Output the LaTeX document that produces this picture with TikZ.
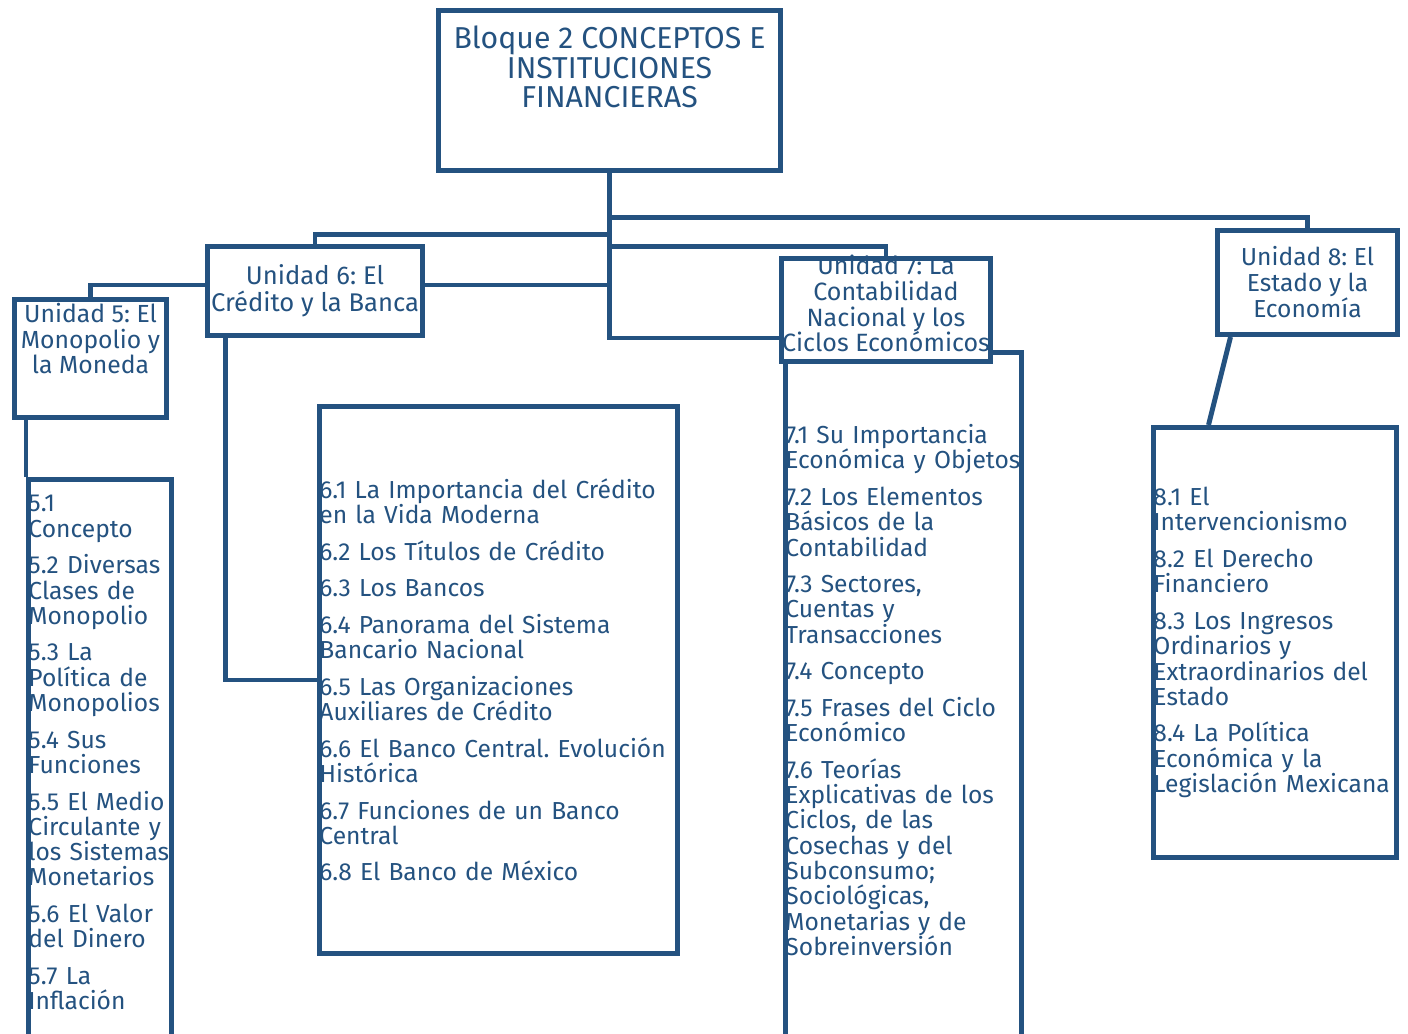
\documentclass[tikz,border=0pt]{standalone}
\usepackage{fontspec}
\setmainfont{Fira Sans}
\frenchspacing
\definecolor{azul}{RGB}{36,82,128}
\newcommand{\salto}{\\[8pt]}
\tikzset{
	link/.style={draw=azul, line width=3.5pt},
	unitbox/.style={draw=azul, fill=white, line width=3.5pt, inner sep=0pt, align=center, text=azul},
	listbox/.style={draw=azul, fill=white, line width=3.5pt, inner xsep=0pt, inner ysep=0pt, align=left, text=azul, font=\fontsize{17.5}{18}\selectfont},
	listtext/.style={inner sep=0pt, align=left, text=azul, font=\fontsize{17.5}{18}\selectfont},
	boxtext/.style={inner sep=0pt, align=center, text=azul},
}

\begin{document}
\begin{tikzpicture}[x=0.025cm, y=-0.025cm]
	\useasboundingbox (0,0) rectangle (1408,1033);
	\clip (0,0) rectangle (1408,1033);

	\node[listbox, minimum width=3.575cm, minimum height=13.96cm] (L5) at (100,758.75) {};
	\node[listtext, text width=3.575cm] (L5text) at ([yshift=0.15cm]L5.center) {5.1\\Concepto\salto 5.2 Diversas\\Clases de\\Monopolio\salto 5.3 La\\Política de\\Monopolios\salto 5.4 Sus\\Funciones\salto 5.5 El Medio\\Circulante y\\los Sistemas\\Monetarios\salto 5.6 El Valor\\del Dinero\salto 5.7 La\\Inflación};
	\node[listbox, minimum width=8.95cm, minimum height=13.675cm, text width=8.95cm] (L6) at (498.5,680) {6.1 La Importancia del Crédito\\en la Vida Moderna\salto 6.2 Los Títulos de Crédito\salto 6.3 Los Bancos\salto 6.4 Panorama del Sistema\\Bancario Nacional\salto 6.5 Las Organizaciones\\Auxiliares de Crédito\salto 6.6 El Banco Central. Evolución\\Histórica\salto 6.7 Funciones de un Banco\\Central\salto 6.8 El Banco de México};
	\node[listbox, minimum width=5.9cm, minimum height=17.1375cm] (L7) at (903.5,695.25) {};
	\node[listtext, text width=5.9cm] (L7text) at ([yshift=0.13cm]L7.center) {7.1 Su Importancia\\Económica y Objetos\salto 7.2 Los Elementos\\Básicos de la\\Contabilidad\salto 7.3 Sectores,\\Cuentas y\\Transacciones\salto 7.4 Concepto\salto 7.5 Frases del Ciclo\\Económico\salto 7.6 Teorías\\Explicativas de los\\Ciclos, de las\\Cosechas y del\\Subconsumo;\\Sociológicas,\\Monetarias y de\\Sobreinversión};
	\node[listbox, minimum width=6.075cm, minimum height=10.75cm, text width=6.075cm] (L8) at (1275,642.5) {8.1 El\\Intervencionismo\salto 8.2 El Derecho\\Financiero\salto 8.3 Los Ingresos\\Ordinarios y\\Extraordinarios del\\Estado\salto 8.4 La Política\\Económica y la\\Legislación Mexicana};

	\node[unitbox, minimum width=8.55cm, minimum height=4cm] (title) at (609.5,90.5) {};
	\node[boxtext, anchor=north, font=\fontsize{21.5}{21}\selectfont] (titletext) at ([yshift=-0.44cm]title.north) {Bloque 2 CONCEPTOS E\\INSTITUCIONES\\FINANCIERAS};

	\node[unitbox, minimum width=5.375cm, minimum height=2.225cm, font=\fontsize{18.2}{19.2}\selectfont] (U6) at (315,291) {Unidad 6: El\\Crédito y la Banca};
	\node[unitbox, minimum width=3.8cm, minimum height=2.95cm] (U5) at (90.5,358.5) {};
	\node[boxtext, anchor=north, font=\fontsize{17.6}{18.2}\selectfont] (U5text) at ([yshift=-0.15cm]U5.north) {Unidad 5: El\\Monopolio y\\la Moneda};
	\node[unitbox, minimum width=5.225cm, minimum height=2.575cm] (U7) at (886,310) {};
	\node[boxtext, font=\fontsize{17.8}{18.3}\selectfont] (U7text) at ([yshift=0.16cm]U7.center) {Unidad 7: La\\Contabilidad\\Nacional y los\\Ciclos Económicos};
	\node[unitbox, minimum width=4.5cm, minimum height=2.6cm, font=\fontsize{17.5}{18.5}\selectfont] (U8) at (1307.5,282.5) {Unidad 8: El\\Estado y la\\Economía};

	\draw[link] (title.south) |- ([yshift=-0.7cm]U7.west);
	\draw[link] ([yshift=-1.1125cm]title.south) -| (U8.north);
	\draw[link] ([yshift=-1.8375cm]title.south) -| (U7.north);
	\draw[link] ([yshift=-1.5375cm]title.south) -| (U6.north);
	\draw[link] ([yshift=0.15cm]U6.east) -- ([yshift=0.15cm]U6.east -| title.south);
	\draw[link] ([yshift=0.15cm]U6.west) -| (U5.north);
	\draw[link] ([xshift=0.5125cm]U6.south west) |- (L6.west);
	\draw[link] (L5.north west) -- (L5.north west |- U5.south);
	\draw[link] ([xshift=0.3875cm]U8.south west) -- ([xshift=1.4375cm]L8.north west);
\end{tikzpicture}
\end{document}
